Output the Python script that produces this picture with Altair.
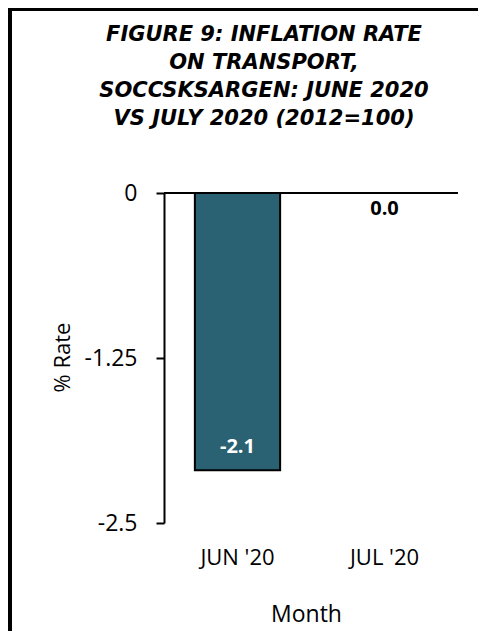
import altair as alt
import pandas as pd

months = ["JUN '20", "JUL '20"]
rates = [-2.1, 0.0]
y_ticks = [0, -1.25, -2.5]
title_lines = [
    "FIGURE 9: INFLATION RATE",
    "ON TRANSPORT,",
    "SOCCSKSARGEN: JUNE 2020",
    "VS JULY 2020 (2012=100)",
]

df = pd.DataFrame({"month": months, "rate": rates})

FONT = "Open Sans"
TITLE_FONT = "DejaVu Sans"
W, H = 294, 330

base = alt.Chart(df)

x_enc = alt.X(
    "month:N",
    sort=months,
    scale=alt.Scale(paddingInner=0.42, paddingOuter=0.21),
    axis=alt.Axis(
        title="Month",
        labelAngle=0,
        domain=False,
        ticks=False,
        tickSize=0,
        grid=False,
        labelFont=FONT,
        labelFontSize=22,
        labelColor="black",
        labelPadding=34,
        labelBaseline="middle",
        titleFont=FONT,
        titleFontSize=23,
        titleFontWeight="normal",
        titleColor="black",
        titleX=142,
        titleY=91,
        titleBaseline="middle",
        titleAlign="center",
    ),
)

y_enc = alt.Y(
    "rate:Q",
    scale=alt.Scale(domain=[-2.5, 0], nice=False, zero=False),
    axis=alt.Axis(
        title="% Rate",
        values=y_ticks,
        labelExpr="toString(datum.value)",
        grid=False,
        domainColor="black",
        domainWidth=2,
        tickColor="black",
        tickWidth=2,
        tickSize=8,
        labelFont=FONT,
        labelFontSize=23,
        labelColor="black",
        labelPadding=19,
        titleFont=FONT,
        titleFontSize=22,
        titleFontWeight="normal",
        titleColor="black",
        titleAngle=270,
        titleX=-102,
        titleY=164,
        titleAlign="center",
        titleBaseline="middle",
    ),
)

bars = base.mark_bar(color="#2A6173", stroke="black", strokeWidth=2).encode(
    x=x_enc, y=y_enc, y2=alt.datum(0)
)

zero_line = base.mark_rule(color="black", strokeWidth=2).encode(y=alt.datum(0))

label_expr = "replace(format(datum.rate, '.1f'), '\u2212', '-')"

neg_label = (
    base.transform_filter("datum.rate < 0")
    .transform_calculate(lbl=label_expr)
    .mark_text(font=FONT, fontSize=20, fontWeight="bold", color="white", dy=-23, baseline="middle")
    .encode(x=alt.X("month:N", sort=months), y="rate:Q", text="lbl:N")
)

zero_label = (
    base.transform_filter("datum.rate >= 0")
    .transform_calculate(lbl=label_expr)
    .mark_text(font=FONT, fontSize=20, fontWeight="bold", color="black", dy=16, baseline="middle")
    .encode(x=alt.X("month:N", sort=months), y="rate:Q", text="lbl:N")
)

border = (
    alt.Chart(alt.Data(values=[{"b": 1}]))
    .mark_rect(fill="transparent", stroke="black", strokeWidth=4)
    .encode(
        x=alt.value(-154),
        x2=alt.value(W + 60),
        y=alt.value(-184),
        y2=alt.value(H + 160),
    )
)

chart = (
    alt.layer(bars, zero_line, neg_label, zero_label, border)
    .properties(
        width=W,
        height=H,
        view=alt.ViewBackground(stroke="transparent", strokeOpacity=0, strokeWidth=0),
        title=alt.TitleParams(
            text=title_lines,
            font=TITLE_FONT,
            fontSize=21,
            fontStyle="italic",
            fontWeight="bold",
            color="black",
            anchor="middle",
            lineHeight=28,
            dx=-47,
            offset=-122,
        ),
        autosize=alt.AutoSizeParams(type="none"),
        padding={"left": 156, "top": 185, "right": 20, "bottom": 108},
    )
    .configure_view(stroke="transparent", strokeOpacity=0, strokeWidth=0)
    .configure(background="white")
)

chart.save("out.html", embed_options={"renderer": "svg", "actions": False})
